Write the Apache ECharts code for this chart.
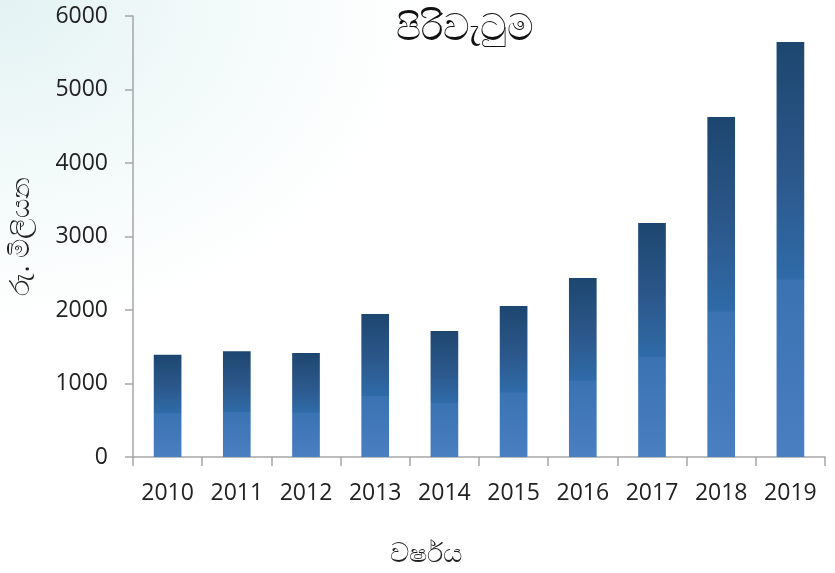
<!DOCTYPE html>
<html><head><meta charset="utf-8">
<script src="https://cdn.jsdelivr.net/npm/echarts@6/dist/echarts.min.js"></script>
<style>
html,body{margin:0;padding:0;width:835px;height:573px;overflow:hidden;
background: radial-gradient(ellipse 420px 330px at 0px 0px, #e3f2f3 0%, #f1f9f9 45%, #ffffff 100%);}
#c{width:835px;height:573px;}
</style></head>
<body><div id="c"></div>
<script>
const categories = ['2010','2011','2012','2013','2014','2015','2016','2017','2018','2019'];
const values = [1390, 1440, 1415, 1945, 1715, 2055, 2435, 3185, 4625, 5645];
const yTicks = {min:0, max:6000, interval:1000};
const titleText = 'පිරිවැටුම';
const yName = 'රු. මිලියන';
const xName = 'වර්ෂය';

const chart = echarts.init(document.getElementById('c'), null, {renderer:'canvas'});
const axisGray = '#a6a6a6';
const font = "'Open Sans', 'Noto Sans', sans-serif";
chart.setOption({
  backgroundColor: 'transparent',
  animation: false,
  title: {text: titleText, left: 460, top: 6, textAlign: 'center',
    textStyle: {fontSize: 37, fontWeight: 'normal', color: '#111', fontFamily: font}},
  grid: {left: 131, right: 10, top: 16, bottom: 116, containLabel: false},
  graphic: [{
    type: 'text', left: 390, top: 541,
    style: {text: xName, fontSize: 27, fill: '#222', fontFamily: font}
  }],
  xAxis: {
    type: 'category', data: categories,
    axisLine: {lineStyle: {color: axisGray, width: 1.5}},
    axisTick: {show: true, length: 9, lineStyle: {color: axisGray, width: 1.5}},
    axisLabel: {fontSize: 23, color: '#222', margin: 25, fontFamily: font},
    splitLine: {show: false}
  },
  yAxis: {
    type: 'value', min: yTicks.min, max: yTicks.max, interval: yTicks.interval,
    name: yName, nameLocation: 'middle', nameGap: 98, nameRotate: 90,
    nameTextStyle: {fontSize: 27, color: '#222', fontFamily: font},
    axisLine: {show: true, lineStyle: {color: axisGray, width: 1.5}},
    axisTick: {show: true, length: 8, lineStyle: {color: axisGray, width: 1.5}},
    axisLabel: {fontSize: 23, color: '#222', margin: 25, fontFamily: font,
      formatter: v => String(v)},
    splitLine: {show: false}
  },
  series: [{
    type: 'bar', data: values, barWidth: '40%',
    itemStyle: {color: new echarts.graphic.LinearGradient(0,0,0,1,[
      {offset:0, color:'#1d466f'},
      {offset:0.3, color:'#2b5689'},
      {offset:0.57, color:'#2f6ba8'},
      {offset:0.575, color:'#3a72b2'},
      {offset:1, color:'#4a7fc1'}
    ])}
  }]
});
</script></body></html>
